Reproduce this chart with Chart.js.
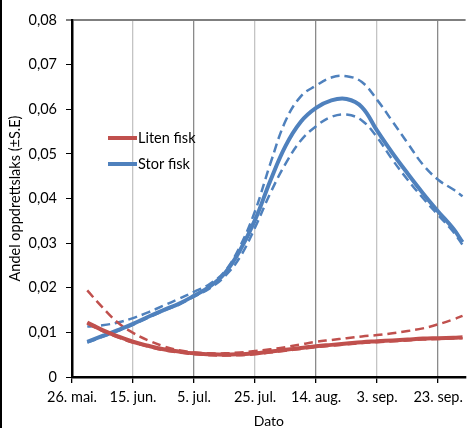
<!DOCTYPE html>
<html>
<head>
<meta charset="utf-8">
<script src="https://cdn.jsdelivr.net/npm/chart.js@4.4.1/dist/chart.umd.min.js"></script>
<style>
  html, body { margin: 0; padding: 0; background: #fff; }
  #wrap { position: relative; width: 469px; height: 428px; }
  #edge { position: absolute; left: 0; top: 0; width: 2px; height: 428px; background: #000; }
  canvas { position: absolute; left: 0; top: 0; }
</style>
</head>
<body>
<div id="wrap">
  <canvas id="c" width="469" height="428"></canvas>
  <div id="edge"></div>
</div>
<script>
// Days after 26 May
const days = [5, 10, 15, 20, 25, 30, 35, 40, 45, 50, 55, 60, 65, 70, 75, 80, 85, 90, 95, 100, 105, 110, 115, 120, 125, 128];

const storFisk      = [0.0079, 0.0092, 0.0105, 0.0119, 0.0135, 0.0150, 0.0164, 0.0182, 0.0202, 0.0232, 0.0283, 0.0352, 0.0440, 0.0518, 0.0572, 0.0603, 0.0620, 0.0623, 0.0605, 0.0552, 0.0502, 0.0456, 0.0412, 0.0371, 0.0332, 0.0302];
const storFiskUpper = [0.0113, 0.0116, 0.0122, 0.0132, 0.0145, 0.0160, 0.0175, 0.0191, 0.0208, 0.0236, 0.0292, 0.0372, 0.0478, 0.0574, 0.0629, 0.0653, 0.0671, 0.0674, 0.0661, 0.0621, 0.0573, 0.0524, 0.0476, 0.0442, 0.0420, 0.0405];
const storFiskLower = [0.0077, 0.0090, 0.0103, 0.0117, 0.0133, 0.0148, 0.0162, 0.0180, 0.0198, 0.0225, 0.0268, 0.0335, 0.0412, 0.0478, 0.0530, 0.0562, 0.0583, 0.0588, 0.0575, 0.0537, 0.0487, 0.0442, 0.0401, 0.0363, 0.0325, 0.0296];

const litenFisk      = [0.0122, 0.0105, 0.0091, 0.0079, 0.0070, 0.0062, 0.0057, 0.0053, 0.0051, 0.0050, 0.0051, 0.0053, 0.0057, 0.0061, 0.0065, 0.0069, 0.0072, 0.0075, 0.0078, 0.0080, 0.0082, 0.0084, 0.0086, 0.0087, 0.0088, 0.0089];
const litenFiskUpper = [0.0194, 0.0156, 0.0122, 0.0099, 0.0082, 0.0069, 0.0060, 0.0055, 0.0053, 0.0053, 0.0055, 0.0058, 0.0062, 0.0067, 0.0073, 0.0079, 0.0083, 0.0087, 0.0091, 0.0094, 0.0098, 0.0103, 0.0109, 0.0118, 0.0129, 0.0137];
const litenFiskLower = [0.0120, 0.0103, 0.0089, 0.0077, 0.0068, 0.0060, 0.0055, 0.0051, 0.0049, 0.0048, 0.0049, 0.0051, 0.0055, 0.0059, 0.0063, 0.0067, 0.0070, 0.0073, 0.0076, 0.0078, 0.0080, 0.0082, 0.0084, 0.0085, 0.0086, 0.0087];

const xTickLabels = ['26. mai.', '15. jun.', '5. jul.', '25. jul.', '14. aug.', '3. sep.', '23. sep.'];
const seriesNames = ['Liten fisk', 'Stor fisk'];

const RED = '#C0504D';
const BLUE = '#4F81BD';
const FONT = 'Lato, "Open Sans", sans-serif';

const pts = arr => arr.map((v, i) => ({ x: days[i], y: v }));

function solid(label, arr, color) {
  return { label, data: pts(arr), borderColor: color, backgroundColor: color, borderWidth: 4,
           pointRadius: 0, tension: 0.4, fill: false };
}
function dashed(label, arr, color) {
  return { label, data: pts(arr), borderColor: color, backgroundColor: color, borderWidth: 2.5,
           borderDash: [9, 5], pointRadius: 0, tension: 0.4, fill: false };
}

const legendPlugin = {
  id: 'inlineLegend',
  afterDatasetsDraw(chart) {
    const ctx = chart.ctx;
    const items = [
      { text: seriesNames[0], color: RED, y: 138 },
      { text: seriesNames[1], color: BLUE, y: 164 }
    ];
    ctx.save();
    ctx.font = '14.5px ' + FONT;
    ctx.textBaseline = 'middle';
    ctx.textAlign = 'left';
    items.forEach(it => {
      ctx.strokeStyle = it.color;
      ctx.lineWidth = 4;
      ctx.beginPath();
      ctx.moveTo(108, it.y);
      ctx.lineTo(137, it.y);
      ctx.stroke();
      ctx.fillStyle = '#000';
      ctx.fillText(it.text, 138, it.y + 0.5);
    });
    ctx.restore();
  }
};

new Chart(document.getElementById('c'), {
  type: 'line',
  data: {
    datasets: [
      solid(seriesNames[0], litenFisk, RED),
      solid(seriesNames[1], storFisk, BLUE),
      dashed(seriesNames[0] + ' +SE', litenFiskUpper, RED),
      dashed(seriesNames[0] + ' -SE', litenFiskLower, RED),
      dashed(seriesNames[1] + ' +SE', storFiskUpper, BLUE),
      dashed(seriesNames[1] + ' -SE', storFiskLower, BLUE)
    ]
  },
  options: {
    responsive: false,
    animation: false,
    devicePixelRatio: 1,
    layout: { padding: { top: 20, right: 2, left: 0, bottom: 0 } },
    plugins: { legend: { display: false }, tooltip: { enabled: false } },
    scales: {
      x: {
        type: 'linear',
        min: 0,
        max: 129,
        afterFit(s) { s.height = 51; },
        ticks: {
          stepSize: 20,
          includeBounds: false,
          autoSkip: false,
          maxRotation: 0,
          padding: 6,
          color: '#000',
          font: { family: FONT, size: 14.5 },
          callback: v => xTickLabels[Math.round(v / 20)] ?? ''
        },
        grid: {
          drawOnChartArea: true,
          tickLength: 6,
          lineWidth: 1.3,
          color: c => (c.tick && Math.round(c.tick.value / 20) % 2 === 1) ? '#c4c4c4' : '#8a8a8a',
          tickColor: '#000'
        },
        border: { display: true, color: '#000', width: 2.5 },
        title: {
          display: true, text: 'Dato', color: '#000',
          font: { family: FONT, size: 14, lineHeight: 1.0 },
          padding: { top: 0, bottom: 0 }
        }
      },
      y: {
        min: 0,
        max: 0.08,
        afterFit(s) { s.width = 72; },
        ticks: {
          stepSize: 0.01,
          padding: 9,
          color: '#000',
          font: { family: FONT, size: 14.5 },
          callback: v => v === 0 ? '0' : v.toFixed(2).replace('.', ',')
        },
        grid: {
          tickLength: 6,
          lineWidth: c => (c.tick && Math.abs(c.tick.value - 0.08) < 1e-9) ? 2 : 1,
          color: c => (c.tick && Math.abs(c.tick.value - 0.08) < 1e-9) ? '#7f7f7f' : 'rgba(0,0,0,0)',
          tickColor: c => (c.tick && Math.abs(c.tick.value - 0.08) < 1e-9) ? '#7f7f7f' : '#000'
        },
        border: { display: true, color: '#000', width: 2.5 },
        title: {
          display: true, text: 'Andel oppdrettslaks (±S.E)', color: '#000',
          font: { family: FONT, size: 14.5, lineHeight: 1.2 },
          padding: { top: 7, bottom: 0 }
        }
      }
    }
  },
  plugins: [legendPlugin]
});
</script>
</body>
</html>
